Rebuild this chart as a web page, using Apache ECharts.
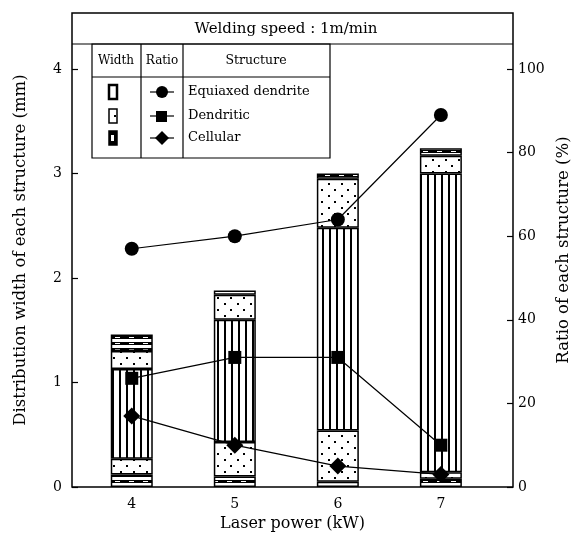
<!DOCTYPE html>
<html><head><meta charset="utf-8">
<script src="https://cdn.jsdelivr.net/npm/echarts@6/dist/echarts.min.js"></script>
<style>html,body{margin:0;padding:0;background:#fff}#c{width:576px;height:543px}</style>
</head><body><div id="c"></div>
<script>
// ---- data ----
const laserPower = [4, 5, 6, 7];
const xTickLabels = [4, 5, 6, 7];
const leftTicks = [0, 1, 2, 3, 4];
const rightTicks = [0, 20, 40, 60, 80, 100];
// distribution width (mm) of each zone, bottom to top
const cellularBottom = [0.12, 0.10, 0.05, 0.08];
const dendriticBottom = [0.15, 0.33, 0.49, 0.06];
const equiaxedWidth = [0.86, 1.17, 1.94, 2.86];
const dendriticTop = [0.17, 0.24, 0.47, 0.17];
const cellularTop = [0.16, 0.04, 0.05, 0.07];
// ratio (%) of each structure
const equiaxedRatio = [57, 60, 64, 89];
const dendriticRatio = [26, 31, 31, 10];
const cellularRatio = [17, 10, 5, 3];

function mk(w, h, draw) {
  const c = document.createElement('canvas'); c.width = w; c.height = h;
  const g = c.getContext('2d'); g.fillStyle = '#fff'; g.fillRect(0, 0, w, h);
  g.fillStyle = '#000'; draw(g); return c;
}
const patEqui = mk(7, 10, g => { g.fillRect(0, 0, 2, 10); });
const patDend = mk(13, 12, g => { g.fillRect(3, 3, 2, 2); g.fillRect(9, 9, 2, 2); });
const patCell = mk(14, 6, g => { g.fillRect(0, 0, 14, 3); g.fillStyle = '#fff'; g.fillRect(3, 1, 5, 1); });

// value first, power second (stack acts on the value dimension)
const pair = arr => arr.map((v, i) => [v, laserPower[i]]);
const FONT = 'DejaVu Serif';
function barSeries(name, arr, pat) {
  return {
    name, type: 'bar', stack: 'w', barWidth: 42, data: pair(arr), z: 2,
    encode: { x: 1, y: 0 },
    itemStyle: { color: { image: pat, repeat: 'repeat' }, borderColor: '#000', borderWidth: 1.5 }
  };
}
function lineSeries(name, arr, sym, size) {
  return {
    name, type: 'line', yAxisIndex: 1, data: pair(arr), encode: { x: 1, y: 0 },
    symbol: sym, symbolSize: size, z: 5,
    lineStyle: { color: '#000', width: 1.2 }, itemStyle: { color: '#000' }
  };
}

const chart = echarts.init(document.getElementById('c'), null, { renderer: 'canvas' });
const txt = { fontFamily: FONT, color: '#000' };
const gl = (x1, y1, x2, y2) => ({ type: 'line', shape: { x1, y1, x2, y2 }, style: { stroke: '#000', lineWidth: 1.2 }, z: 10 });
const gt = (x, y, text, size, align) => ({ type: 'text', x, y, z: 10, style: { text, font: size + 'px ' + FONT, fill: '#000', align: align || 'center', verticalAlign: 'middle' } });
const rows = [92, 116, 138];

chart.setOption({
  animation: false,
  backgroundColor: '#fff',
  grid: { left: 72, right: 63, top: 13, bottom: 56, outerBoundsMode: 'none', containLabel: false, show: true, borderColor: '#000', borderWidth: 1.5 },
  xAxis: {
    type: 'value', min: 3.42, max: 7.7,
    name: 'Laser power (kW)', nameLocation: 'middle', nameGap: 28,
    nameTextStyle: { ...txt, fontSize: 16 },
    axisLine: { show: false }, splitLine: { show: false },
    axisTick: { show: false },
    axisLabel: { customValues: xTickLabels, ...txt, fontSize: 14, margin: 10 }
  },
  yAxis: [{
    type: 'value', min: 0, max: 4.535, position: 'left',
    name: 'Distribution width of each structure (mm)', nameLocation: 'middle', nameGap: 43,
    nameTextStyle: { ...txt, fontSize: 16.5 },
    axisLine: { show: false }, splitLine: { show: false },
    axisTick: { show: true, inside: true, length: 6, customValues: leftTicks, lineStyle: { color: '#000', width: 1.2 } },
    axisLabel: { customValues: leftTicks, ...txt, fontSize: 14, margin: 10 }
  }, {
    type: 'value', min: 0, max: 113.4, position: 'right',
    name: 'Ratio of each structure (%)', nameLocation: 'middle', nameGap: 41,
    nameTextStyle: { ...txt, fontSize: 16.5 },
    axisLine: { show: false }, splitLine: { show: false },
    axisTick: { show: true, inside: true, length: 6, customValues: rightTicks, lineStyle: { color: '#000', width: 1.2 } },
    axisLabel: { customValues: rightTicks, ...txt, fontSize: 14, margin: 5 }
  }],
  series: [
    barSeries('Cellular (bottom)', cellularBottom, patCell),
    barSeries('Dendritic (bottom)', dendriticBottom, patDend),
    barSeries('Equiaxed dendrite', equiaxedWidth, patEqui),
    barSeries('Dendritic (top)', dendriticTop, patDend),
    barSeries('Cellular (top)', cellularTop, patCell),
    lineSeries('Equiaxed dendrite ratio', equiaxedRatio, 'circle', 14),
    lineSeries('Dendritic ratio', dendriticRatio, 'rect', 13),
    lineSeries('Cellular ratio', cellularRatio, 'diamond', 17)
  ],
  graphic: [
    gl(72, 44, 513, 44),
    gt(286, 29, 'Welding speed : 1m/min', 15),
    { type: 'rect', shape: { x: 92, y: 44, width: 238, height: 114 }, style: { fill: '#fff', stroke: '#000', lineWidth: 1.2 }, z: 9 },
    gl(141, 44, 141, 158), gl(183, 44, 183, 158), gl(92, 77, 330, 77),
    gt(116, 61, 'Width', 12), gt(162, 61, 'Ratio', 12), gt(256, 61, 'Structure', 12.5),
    gt(188, rows[0], 'Equiaxed dendrite', 13, 'left'),
    gt(188, rows[1], 'Dendritic', 13, 'left'),
    gt(188, rows[2], 'Cellular', 13, 'left'),
    { type: 'rect', z: 10, shape: { x: 109, y: rows[0] - 7, width: 8, height: 14 }, style: { fill: '#fff', stroke: '#000', lineWidth: 2.5 } },
    { type: 'rect', z: 10, shape: { x: 109, y: rows[1] - 7, width: 8, height: 14 }, style: { fill: '#fff', stroke: '#000', lineWidth: 1.5 } },
    { type: 'rect', z: 10, shape: { x: 114, y: rows[1] - 1, width: 2, height: 2 }, style: { fill: '#000' } },
    { type: 'rect', z: 10, shape: { x: 109, y: rows[2] - 7, width: 8, height: 14 }, style: { fill: '#000', stroke: '#000', lineWidth: 1.5 } },
    { type: 'rect', z: 11, shape: { x: 111, y: rows[2] - 3, width: 3, height: 6 }, style: { fill: '#fff' } },
    gl(150, rows[0], 174, rows[0]), gl(150, rows[1], 174, rows[1]), gl(150, rows[2], 174, rows[2]),
    { type: 'circle', z: 11, shape: { cx: 162, cy: rows[0], r: 6 }, style: { fill: '#000' } },
    { type: 'rect', z: 11, shape: { x: 156, y: rows[1] - 5, width: 11, height: 11 }, style: { fill: '#000' } },
    { type: 'polygon', z: 11, shape: { points: [[162, rows[2] - 7], [169, rows[2]], [162, rows[2] + 7], [155, rows[2]]] }, style: { fill: '#000' } }
  ]
});
</script></body></html>
